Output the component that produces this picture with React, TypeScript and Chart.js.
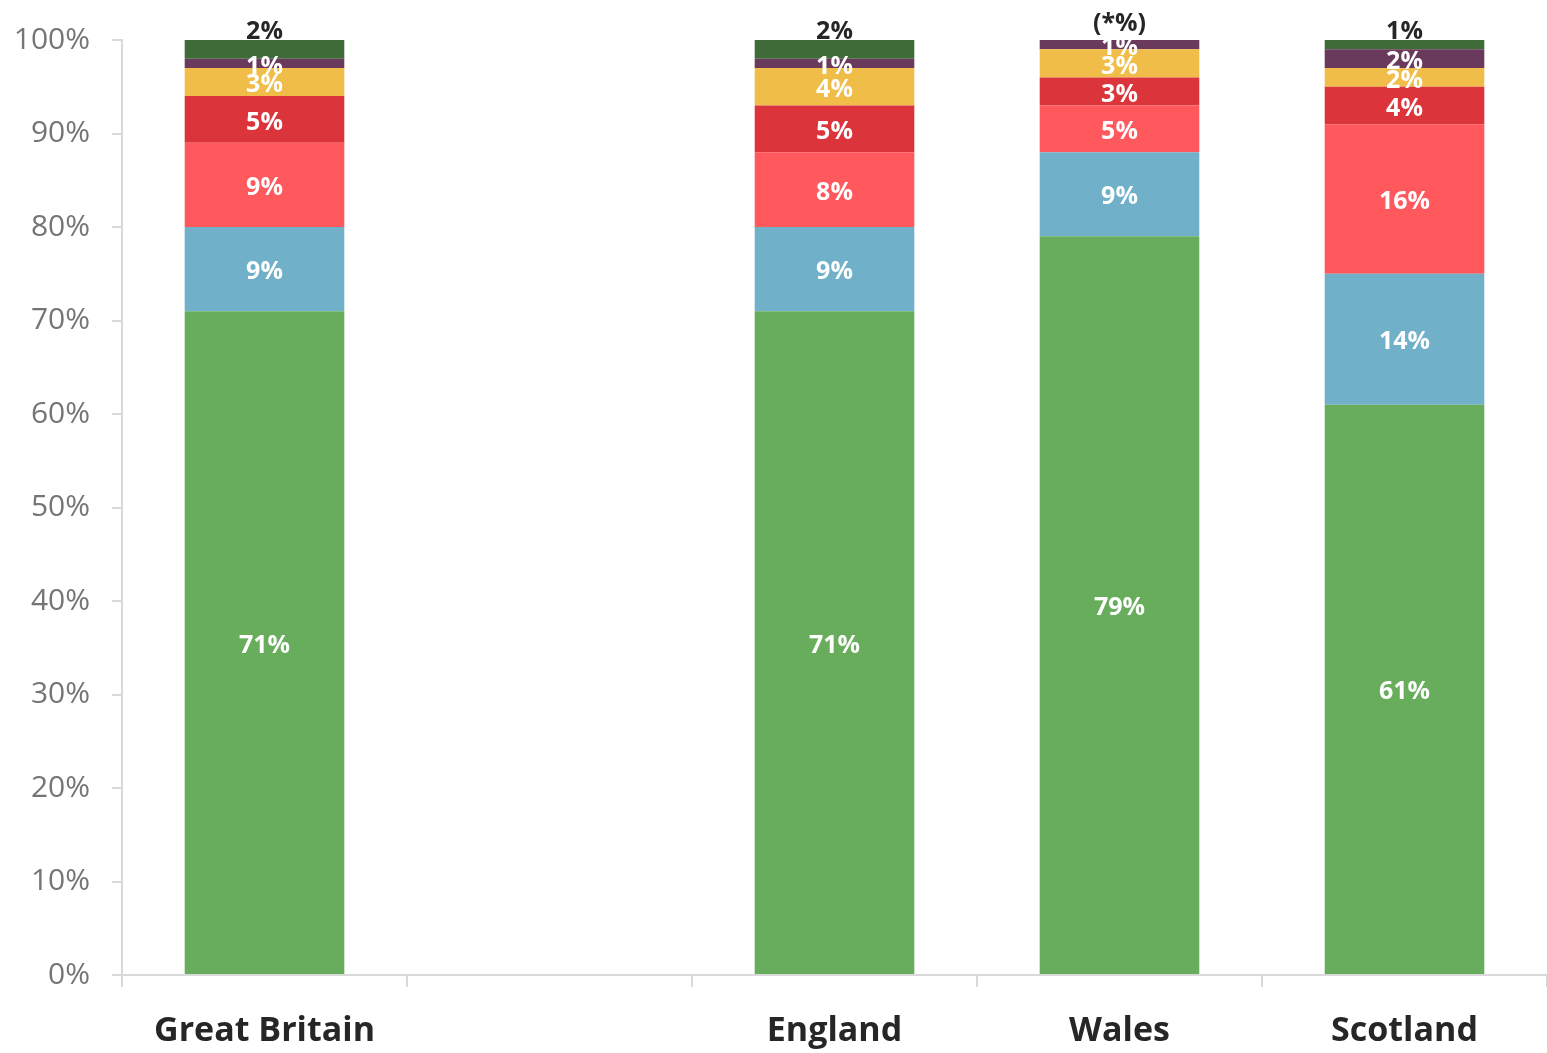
import React, { useEffect, useRef } from "react";
import { Chart, registerables } from "chart.js";

Chart.register(...registerables);

const categories = ["Great Britain", "", "England", "Wales", "Scotland"];
const seriesNames = ["Series 1", "Series 2", "Series 3", "Series 4", "Series 5", "Series 6", "Series 7"];
const green = [71, null, 71, 79, 61];
const blue = [9, null, 9, 9, 14];
const lightRed = [9, null, 8, 5, 16];
const red = [5, null, 5, 3, 4];
const yellow = [3, null, 4, 3, 2];
const purple = [1, null, 1, 1, 2];
const darkGreen = [2, null, 2, 0, 1];
const yTicks = [0, 10, 20, 30, 40, 50, 60, 70, 80, 90, 100];

const colors = ["#68AD5C", "#70B1C9", "#FF585D", "#DC343B", "#F0BD48", "#693A5B", "#3F6B38"];
const FONT = "'Open Sans', 'Noto Sans', sans-serif";

const labelPlugin = {
  id: "segLabels",
  afterDatasetsDraw(chart: any) {
    const ctx = chart.ctx;
    const n = chart.data.datasets.length;
    ctx.save();
    ctx.textAlign = "center";
    chart.data.datasets.forEach((ds: any, di: number) => {
      const meta = chart.getDatasetMeta(di);
      meta.data.forEach((bar: any, i: number) => {
        const v = ds.data[i];
        if (v === null || v === undefined) return;
        ctx.font = `bold 25px ${FONT}`;
        ctx.textBaseline = "middle";
        if (di === n - 1) {
          ctx.fillStyle = "#262626";
          if (v === 0) {
            ctx.fillText("(*%)", bar.x, bar.y - 16);
          } else {
            ctx.fillText(v + "%", bar.x, bar.y - 8);
          }
        } else {
          ctx.fillStyle = "#FFFFFF";
          ctx.fillText(v + "%", bar.x, (bar.y + bar.base) / 2 + 3);
        }
      });
    });
    ctx.restore();
  },
};

export default function App() {
  const ref = useRef<HTMLCanvasElement>(null);
  useEffect(() => {
    document.body.style.margin = "0";
    const seriesData = [green, blue, lightRed, red, yellow, purple, darkGreen];
    const chart = new Chart(ref.current as HTMLCanvasElement, {
      type: "bar",
      data: {
        labels: categories,
        datasets: seriesData.map((d, i) => ({
          label: seriesNames[i],
          data: d as any,
          backgroundColor: colors[i],
          borderWidth: 0,
          categoryPercentage: 0.56,
          barPercentage: 1,
        })),
      },
      options: {
        animation: false,
        responsive: true,
        maintainAspectRatio: false,
        devicePixelRatio: 1,
        layout: { padding: { top: 40, right: 0, left: 0, bottom: 0 } },
        plugins: {
          legend: { display: false },
          tooltip: { enabled: false },
        },
        scales: {
          x: {
            stacked: true,
            grid: {
              offset: true,
              drawOnChartArea: false,
              drawTicks: true,
              tickLength: 12,
              color: "#D9D9D9",
              lineWidth: 2,
            },
            border: { color: "#D9D9D9", width: 2 },
            ticks: {
              color: "#262626",
              font: { family: FONT, size: 34, weight: "bold" },
              padding: 24,
              maxRotation: 0,
              autoSkip: false,
            },
            afterFit: (scale: any) => {
              scale.height = 78;
            },
          },
          y: {
            stacked: true,
            min: 0,
            max: 100,
            afterBuildTicks: (scale: any) => {
              scale.ticks = yTicks.map((v) => ({ value: v }));
            },
            grid: {
              drawOnChartArea: false,
              drawTicks: true,
              tickLength: 10,
              color: "#D9D9D9",
              lineWidth: 2,
            },
            border: { color: "#D9D9D9", width: 2 },
            ticks: {
              color: "#757575",
              font: { family: FONT, size: 30 },
              padding: 22,
              callback: (v: any) => v + "%",
            },
            afterFit: (scale: any) => {
              scale.width = 122;
            },
          },
        },
      },
      plugins: [labelPlugin],
    });
    return () => chart.destroy();
  }, []);
  return (
    <div style={{ position: "absolute", left: 0, top: 0, width: 1547, height: 1053 }}>
      <canvas ref={ref} />
    </div>
  );
}
